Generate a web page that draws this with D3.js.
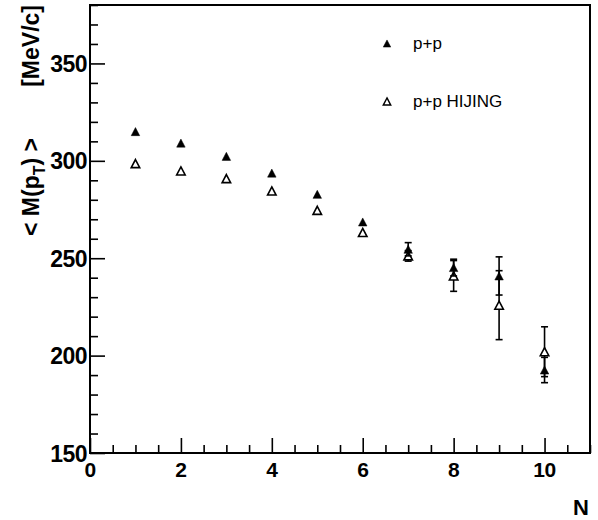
<!DOCTYPE html>
<html>
<head>
<meta charset="utf-8">
<script src="https://cdn.jsdelivr.net/npm/d3@7"></script>
<style>
  html, body { margin: 0; padding: 0; background: #fff; }
  svg { display: block; }
  text { font-family: "Liberation Sans", Arial, Helvetica, sans-serif; fill: #000; }
</style>
</head>
<body>
<svg id="chart" width="598" height="520"></svg>
<script>
// ---- data ----
const nValues = [1, 2, 3, 4, 5, 6, 7, 8, 9, 10];
const ppMean = [315.0, 309.1, 302.3, 293.7, 282.8, 268.6, 254.6, 245.2, 240.9, 192.6];
const ppErr = [0.8, 0.8, 0.9, 1.0, 1.2, 1.5, 3.4, 4.3, 9.8, 6.5];
const hijingMean = [298.6, 294.8, 290.9, 284.5, 274.6, 263.2, 251.2, 240.9, 225.9, 202.0];
const hijingErr = [0.6, 0.6, 0.7, 0.8, 1.0, 1.2, 2.7, 7.9, 17.7, 12.8];
const xTickLabels = [0, 2, 4, 6, 8, 10];
const yTickLabels = [150, 200, 250, 300, 350];
const legendLabels = ["p+p", "p+p HIJING"];

// ---- layout ----
const svg = d3.select("#chart");
const L = 90, R = 590, T = 5, B = 453;
const x = d3.scaleLinear().domain([0, 11]).range([L, R]);
const y = d3.scaleLinear().domain([150, 380]).range([B, T]);

// frame
svg.append("rect").attr("x", L).attr("y", T).attr("width", R - L).attr("height", B - T)
  .attr("fill", "none").attr("stroke", "#000").attr("stroke-width", 2);

// y axis ticks (inward)
const yMinor = d3.range(150, 381, 10);
const yAxis = d3.axisRight(y).tickValues(yMinor).tickSizeInner(8).tickSizeOuter(0).tickFormat("");
const gy = svg.append("g").attr("transform", `translate(${L},0)`).call(yAxis);
gy.select(".domain").remove();
gy.selectAll(".tick line").attr("stroke", "#000").attr("stroke-width", 1.6)
  .attr("x2", d => (d % 50 === 0 ? 15 : 8));
yTickLabels.forEach(v => {
  svg.append("text").attr("x", 87).attr("y", y(v) + 8.5)
    .attr("text-anchor", "end").attr("font-size", 23).attr("font-weight", "bold")
    .attr("letter-spacing", -0.5)
    .text(v);
});

// x axis ticks (inward)
const xMinor = d3.range(0, 11.01, 0.5);
const xAxis = d3.axisTop(x).tickValues(xMinor).tickSizeInner(8).tickSizeOuter(0).tickFormat("");
const gx = svg.append("g").attr("transform", `translate(0,${B})`).call(xAxis);
gx.select(".domain").remove();
gx.selectAll(".tick line").attr("stroke", "#000").attr("stroke-width", 1.6)
  .attr("y2", d => (Math.abs(d % 2) < 1e-9 ? -15 : -8));
xTickLabels.forEach(v => {
  svg.append("text").attr("x", x(v)).attr("y", 476.5)
    .attr("text-anchor", "middle").attr("font-size", 21).attr("font-weight", "bold")
    .attr("letter-spacing", -0.5)
    .text(v);
});

// axis titles
svg.append("text").attr("x", 589).attr("y", 515).attr("text-anchor", "end")
  .attr("font-size", 22).attr("font-weight", "bold").text("N");

svg.append("text").attr("transform", "translate(39,5) rotate(-90)")
  .attr("text-anchor", "end").attr("font-size", 23).attr("font-weight", "bold").text("[MeV/c]");
const yt2 = svg.append("text").attr("transform", "translate(39,138) rotate(-90)")
  .attr("text-anchor", "end").attr("font-size", 23).attr("font-weight", "bold");
yt2.append("tspan").text("< M(p");
yt2.append("tspan").attr("font-size", 16).attr("dy", 6).text("T");
yt2.append("tspan").attr("dy", -6).text(") >");

// markers
function triPath(s) {
  const h = s * 0.95;
  return `M0,${-h / 2}L${s / 2},${h / 2}L${-s / 2},${h / 2}Z`;
}
function drawSeries(means, errs, filled) {
  const g = svg.append("g");
  nValues.forEach((n, i) => {
    if (errs[i] < 2) return; // hidden under the marker in the reference
    const cx = x(n);
    const y1 = y(means[i] + errs[i]), y2 = y(means[i] - errs[i]);
    g.append("line").attr("x1", cx).attr("x2", cx).attr("y1", y1).attr("y2", y2)
      .attr("stroke", "#000").attr("stroke-width", 1.6);
    [y1, y2].forEach(yy => g.append("line").attr("x1", cx - 3.5).attr("x2", cx + 3.5)
      .attr("y1", yy).attr("y2", yy).attr("stroke", "#000").attr("stroke-width", 1.6));
  });
  nValues.forEach((n, i) => {
    g.append("path").attr("d", triPath(8.5))
      .attr("transform", `translate(${x(n)},${y(means[i])})`)
      .attr("fill", filled ? "#000" : "#fff")
      .attr("stroke", "#000").attr("stroke-width", filled ? 0.5 : 1.6);
  });
}
drawSeries(hijingMean, hijingErr, false);
drawSeries(ppMean, ppErr, true);

// legend
const legY = [43.5, 101.5];
legendLabels.forEach((lab, i) => {
  svg.append("path").attr("d", triPath(7.5))
    .attr("transform", `translate(387,${legY[i]})`)
    .attr("fill", i === 0 ? "#000" : "#fff")
    .attr("stroke", "#000").attr("stroke-width", i === 0 ? 0.5 : 1.4);
  svg.append("text").attr("x", 413).attr("y", legY[i] + 5.5)
    .attr("font-size", 17).text(lab);
});
</script>
</body>
</html>
